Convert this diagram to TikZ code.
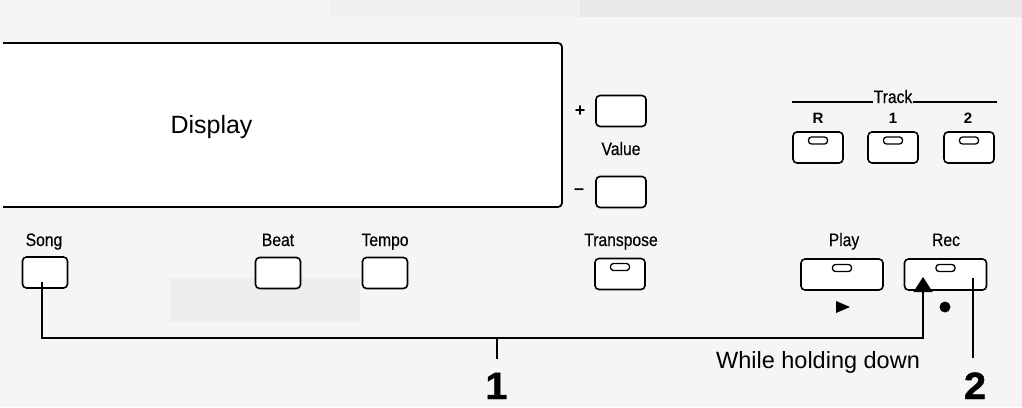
\documentclass[tikz,border=0pt]{standalone}
\usepackage{fontspec}
\setmainfont{Liberation Sans}
\newfontfamily\condfont[FakeStretch=0.87,FakeBold=0.4]{Liberation Sans}
\newfontfamily\numfont[FakeStretch=1.05,FakeBold=1.2]{Liberation Sans}
\usetikzlibrary{arrows.meta}
\tikzset{
  btn/.style={draw, line width=1.6pt, rounded corners=4pt, fill=white, inner sep=0pt, minimum width=50pt, minimum height=31pt},
  wbtn/.style={btn, minimum width=82pt},
  sbtn/.style={btn, minimum width=45pt},
  led/.style={draw, line width=1.3pt, rounded corners=3pt, fill=white, inner sep=0pt, minimum width=19pt, minimum height=7pt},
  lbl/.style={font=\condfont\fontsize{18}{18}\selectfont, inner sep=0pt, anchor=base},
  tlbl/.style={font=\fontsize{15}{15}\selectfont\bfseries, inner sep=0pt, anchor=base},
  wire/.style={line width=1.4pt},
  bignum/.style={font=\numfont\fontsize{38}{38}\selectfont\bfseries, inner sep=0pt, anchor=base}
}
\begin{document}
\begin{tikzpicture}[x=1pt,y=-1pt]
\fill[black!4] (0,0) rectangle (1022,407);
\useasboundingbox (0,0) rectangle (1022,407);
\fill[black!6] (330,0) rectangle (580,17);
\fill[black!9] (580,0) rectangle (1022,17);
\fill[black!7] (170,278) rectangle (360,322);
% display
\fill[white] (0,43) rectangle (562,207);
\draw[line width=1.8pt, rounded corners=4pt] (3,43) -- (562,43) -- (562,207) -- (3,207);
\node[font=\fontsize{25}{25}\selectfont, inner sep=0pt, anchor=base] (disp) at (211.5,133) {Display};
% value
\node[btn] (plus) at (621,111) {};
\node[btn] (minus) at (621,192) {};
\node[font=\fontsize{18}{18}\selectfont\bfseries, inner sep=0pt] (plussign) at (580,111) {+};
\node[font=\fontsize{18}{18}\selectfont\bfseries, inner sep=0pt] (minussign) at (579,192) {–};
\node[lbl] (value) at (621,155) {Value};
% track
\node[lbl] (track) at (893,103) {Track};
\draw[line width=1.2pt] (792,102) -- (873,102);
\draw[line width=1.2pt] (913,102) -- (997,102);
\node[tlbl] (tR) at (818,123) {R};
\node[tlbl] (t1) at (893,123) {1};
\node[tlbl] (t2) at (968,123) {2};
\node[btn] (bR) at (818,147.5) {};
\node[btn] (b1) at (893,147.5) {};
\node[btn] (b2) at (969,147.5) {};
\node[led] (lR) at (818,140.5) {};
\node[led] (l1) at (893,140.5) {};
\node[led] (l2) at (969,140.5) {};
% lower row
\node[lbl] (songl) at (44,246) {Song};
\node[lbl] (beatl) at (278,246) {Beat};
\node[lbl] (tempol) at (385,246) {Tempo};
\node[lbl] (transl) at (621,246) {Transpose};
\node[lbl] (playl) at (844,246) {Play};
\node[lbl] (recl) at (946,246) {Rec};
\node[sbtn] (song) at (45,272.5) {};
\node[sbtn] (beat) at (278,273) {};
\node[sbtn] (tempo) at (385,273) {};
\node[btn] (trans) at (620,274) {};
\node[led] (ltrans) at (620,267) {};
\node[wbtn] (play) at (842,274.5) {};
\node[led] (lplay) at (842,268) {};
\node[wbtn] (rec) at (945.5,274.5) {};
\node[led] (lrec) at (945.5,268) {};
\fill (836,301) -- (850,307) -- (836,313) -- cycle;
\fill (945,307) circle (5.5);
% connectors
\coordinate (s0) at (42,282);
\coordinate (corner) at (923,338);
\coordinate (tip) at (923,277);
\draw[wire, -{Triangle[width=19pt,length=15pt]}] (s0) |- (corner) -- (tip);
\coordinate (t1a) at (497,338);
\node[bignum] (n1) at (496.5,399) {1};
\draw[wire] (t1a) -- (497,359);
\coordinate (r2) at (973,278);
\node[bignum] (n2) at (975,399) {2};
\draw[wire] (r2) -- (973,358);
\node[font=\fontsize{23.5}{23.5}\selectfont, inner sep=0pt, anchor=base] (hold) at (818,368) {While holding down};
\end{tikzpicture}
\end{document}
